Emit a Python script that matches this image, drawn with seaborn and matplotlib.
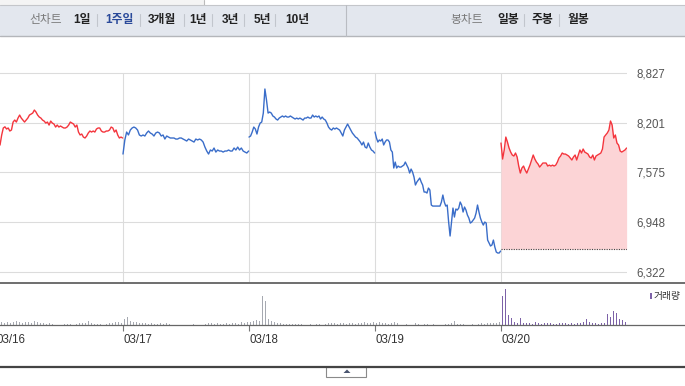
import numpy as np
import pandas as pd
import matplotlib
matplotlib.use("Agg")
import matplotlib.pyplot as plt
import seaborn as sns
from matplotlib.patches import Rectangle, Polygon
from matplotlib.lines import Line2D

# ---- data ----
dates = ["03/16", "03/17", "03/18", "03/19", "03/20"]
price_ticks = [6322, 6948, 7575, 8201, 8827]
prev_close = 6610
day_dir = ["up", "down", "down", "down", "up"]

day1 = [7920, 8045, 8135, 8150, 8122, 8135, 8097, 8110, 8210, 8235, 8210, 8260, 8298, 8260, 8235,
        8210, 8235, 8260, 8298, 8310, 8323, 8361, 8336, 8298, 8273, 8260, 8235, 8222, 8197, 8210,
        8172, 8222, 8197, 8185, 8147, 8172, 8147, 8160, 8147, 8135, 8135, 8147, 8172, 8210, 8197,
        8185, 8147, 8172, 8084, 8047, 8059, 8021, 8009, 8034, 8072, 8097, 8084, 8097, 8084, 8122,
        8135, 8135, 8097, 8084, 8084, 8097, 8097, 8110, 8147, 8135, 8084, 8110, 8047, 8009, 8021, 8009]
day2 = [7807, 7984, 8084, 8047, 8109, 8135, 8147, 8135, 8109, 8047, 8034, 8047, 8034, 8072, 8097,
        8072, 8059, 8034, 8072, 8084, 8072, 8034, 8047, 7996, 8034, 8021, 8009, 8009, 8009, 7996,
        7996, 8009, 8009, 7996, 7984, 7971, 7996, 7984, 7971, 7958, 7996, 7984, 7996, 7984, 7958,
        7895, 7845, 7807, 7858, 7845, 7883, 7832, 7858, 7845, 7845, 7832, 7845, 7845, 7858, 7845,
        7845, 7883, 7858, 7895, 7858, 7883, 7845, 7832, 7820, 7845]
day3 = [8021, 8034, 8084, 8147, 8122, 8059, 8147, 8197, 8210, 8323, 8626, 8487, 8323, 8336, 8323,
        8286, 8273, 8248, 8235, 8260, 8273, 8286, 8273, 8286, 8273, 8273, 8286, 8273, 8260, 8248,
        8260, 8248, 8260, 8248, 8235, 8260, 8260, 8273, 8260, 8260, 8298, 8273, 8286, 8273, 8286,
        8248, 8273, 8248, 8235, 8197, 8147, 8122, 8109, 8135, 8122, 8135, 8122, 8109, 8072, 8034,
        8109, 8147, 8185, 8147, 8109, 8072, 8047, 8021, 8009, 7984, 7958, 7921, 7958, 7895, 7883,
        7946, 7895, 7858, 7845, 7820]
day4 = [8084, 8009, 7958, 7984, 7971, 7996, 7921, 7958, 7984, 7984, 7958, 7858, 7832, 7631, 7706,
        7631, 7656, 7643, 7643, 7656, 7668, 7706, 7668, 7631, 7568, 7618, 7581, 7518, 7417, 7455,
        7480, 7505, 7455, 7417, 7329, 7329, 7316, 7379, 7354, 7165, 7152, 7152, 7152, 7152, 7152,
        7152, 7203, 7291, 7203, 7152, 7165, 6951, 6775, 6951, 7127, 7014, 7115, 7102, 7127, 7203,
        7165, 7077, 7140, 7102, 7039, 7001, 6938, 6951, 6976, 7001, 7064, 7165, 7077, 7001, 6951,
        6913, 6951, 6938, 6724, 6687, 6649, 6662, 6724, 6636, 6573, 6561, 6561, 6586]
day5 = [7946, 7744, 7858, 8021, 7958, 7883, 7832, 7795, 7782, 7820, 7770, 7656, 7568, 7631, 7656,
        7606, 7568, 7618, 7668, 7732, 7795, 7744, 7706, 7681, 7643, 7668, 7694, 7694, 7694, 7656,
        7668, 7656, 7668, 7656, 7668, 7706, 7757, 7782, 7820, 7807, 7807, 7795, 7782, 7757, 7732,
        7770, 7795, 7732, 7795, 7858, 7820, 7870, 7832, 7820, 7807, 7770, 7757, 7795, 7732, 7782,
        7795, 7807, 7820, 7870, 8021, 8047, 8072, 8109, 8223, 8172, 8009, 8047, 7946, 7921, 7845,
        7832, 7845, 7858, 7883]

vol1 = [2, 3, 2, 3, 2, 3, 4, 3, 2, 3, 3, 2, 4, 3, 2, 2, 1, 2, 1, 0, 0, 0, 1, 1, 1, 0, 1, 2, 2, 2, 4,
        2, 1, 1, 1, 0, 1, 2, 2, 3, 3, 2]
vol2 = [6, 8, 4, 3, 3, 2, 2, 2, 1, 2, 1, 1, 2, 1, 2, 1, 0, 0, 0, 0, 0, 0, 0, 1, 0, 0, 0, 1, 2, 2, 1,
        2, 1, 1, 2, 1, 2, 2, 1, 3, 2, 3]
vol3 = [3, 4, 5, 4, 29, 24, 6, 4, 3, 2, 2, 1, 1, 1, 1, 1, 1, 1, 0, 0, 1, 0, 1, 1, 0, 1, 2, 2, 2, 1,
        2, 2, 1, 2, 2, 1, 2, 2, 3, 2, 2, 3]
vol4 = [2, 3, 2, 2, 1, 2, 3, 2, 0, 0, 1, 0, 0, 2, 1, 0, 1, 1, 0, 1, 0, 0, 0, 1, 1, 2, 4, 1, 1, 1, 0,
        0, 1, 0, 1, 2, 1, 2, 2, 2, 2, 3]
vol5 = [29, 36, 10, 7, 3, 2, 7, 2, 2, 2, 1, 3, 2, 1, 2, 2, 2, 1, 1, 2, 2, 2, 1, 2, 1, 2, 2, 3, 6, 3,
        2, 2, 1, 2, 2, 11, 8, 14, 12, 6, 5, 3]

tool_left = ["1일", "1주일", "3개월", "1년", "3년", "5년", "10년"]
tool_right = ["일봉", "주봉", "월봉"]

RED = "#f4353d"
BLUE = "#3a6dc9"
FILL = "#fcd4d6"
GRID = "#dcdcdc"

W, H = 685, 386


def fx(px):
    return px / W


def fy(py):
    return 1 - py / H


sns.set_style("white")
plt.rcParams["font.family"] = ["Liberation Sans", "Noto Sans CJK KR", "DejaVu Sans"]

fig = plt.figure(figsize=(W / 100, H / 100), dpi=100)
fig.patch.set_facecolor("white")

# ---- price panel ----
frames = []
for d, (vals, direction) in enumerate(zip([day1, day2, day3, day4, day5], day_dir)):
    start = 0.024 if d == 0 else 0.0
    t = d + np.linspace(start, 0.997, len(vals))
    frames.append(pd.DataFrame({"t": t, "price": vals, "day": d, "dir": direction}))
df = pd.concat(frames, ignore_index=True)

ax = fig.add_axes([fx(-3), fy(282), 630 / W, (282 - 45) / H])
ax.set_xlim(0, 5)
ax.set_ylim(6196, 9180)

today = df[df.day == 4]
ax.fill_between(today.t, today.price, prev_close, color=FILL, lw=0, zorder=1)
sns.lineplot(data=df, x="t", y="price", hue="dir", units="day", estimator=None, sort=False,
             palette={"up": RED, "down": BLUE}, lw=1.0, legend=False, ax=ax, zorder=3)
ax.hlines(prev_close, today.t.min(), today.t.max(), colors="#444444",
          linestyles=(0, (1, 1.2)), lw=0.8, zorder=4)

ax.yaxis.tick_right()
ax.set_yticks(price_ticks)
ax.set_yticklabels([f"{v:,}" for v in price_ticks])
ax.tick_params(axis="y", length=0, pad=6.5, labelsize=8.3, labelcolor="#555555")
ax.set_xticks([])
ax.set_xlabel("")
ax.set_ylabel("")
ax.grid(True, axis="y", color=GRID, lw=0.8)
ax.set_axisbelow(True)
ax.vlines([1, 2, 3, 4], 6196, price_ticks[-1], colors=GRID, lw=0.8, zorder=0)
for s in ax.spines.values():
    s.set_visible(False)

# ---- volume panel ----
axv = fig.add_axes([fx(-3), fy(325), 691 / W, 43 / H])
axv.set_xlim(0, 691 / 126)
axv.set_ylim(0, 43)
for d, vols in enumerate([vol1, vol2, vol3, vol4, vol5]):
    t = d + (np.arange(len(vols)) + 0.5) / len(vols)
    axv.bar(t, vols, width=1.4 / 126, lw=0, color="#7d62a8" if d == 4 else "#a6a9b1")
axv.set_xticks(range(len(dates)))
axv.set_xticklabels(dates, ha="left")
axv.set_yticks([])
axv.tick_params(axis="x", length=4, width=0.8, color="#777777", pad=2.5, labelsize=8.3,
                labelcolor="#333333", direction="out", bottom=True)
for name, s in axv.spines.items():
    s.set_visible(name == "bottom")
axv.spines["bottom"].set_color("#666666")
axv.spines["bottom"].set_linewidth(0.9)
axv.text(fx(654), fy(295.5), "거래량", transform=fig.transFigure, ha="left", va="center",
         fontsize=7, color="#333333")
fig.patches.append(Rectangle((fx(649.5), fy(298.5)), 2.5 / W, 6 / H, transform=fig.transFigure,
                             facecolor="#7d62a8", lw=0))

# separators between panels
fig.add_artist(Line2D([0, 1], [fy(282.5)] * 2, color="#555555", lw=1.2))
fig.add_artist(Line2D([0, 1], [fy(366.5)] * 2, color="#444444", lw=1.6))
fig.patches.append(Rectangle((fx(326), fy(376.5)), 40 / W, 9.5 / H, transform=fig.transFigure,
                             facecolor="white", edgecolor="#8a8a8a", lw=0.8))
fig.patches.append(Polygon([(fx(343.5), fy(373)), (fx(347), fy(369.5)), (fx(350.5), fy(373))],
                           closed=True, transform=fig.transFigure, facecolor="#4a5570", lw=0))

# ---- toolbar ----
fig.patches.append(Rectangle((0, fy(5)), fx(204), 5 / H, transform=fig.transFigure,
                             facecolor="#f4f4f4", lw=0))
fig.add_artist(Line2D([fx(204)] * 2, [fy(0), fy(5)], color="#bbbbbb", lw=0.8))
fig.patches.append(Rectangle((0, fy(36)), 1, 31 / H, transform=fig.transFigure,
                             facecolor="#e3e7ee", lw=0))
fig.add_artist(Line2D([0, 1], [fy(5)] * 2, color="#c4c6ca", lw=0.8))
fig.add_artist(Line2D([0, 1], [fy(36)] * 2, color="#b4b6ba", lw=1.0))
fig.add_artist(Line2D([fx(346.5)] * 2, [fy(5), fy(36)], color="#b9bcc2", lw=0.8))

fig.text(fx(45.4), fy(20), "선차트", ha="center", va="center", fontsize=8.5, color="#7a7a7a")
for label, cx in zip(tool_left, [82, 119, 161.6, 198, 230.4, 262.4, 297.7]):
    fig.text(fx(cx), fy(20), label, ha="center", va="center", fontsize=8.5, fontweight="bold",
             color="#2a4a9a" if label == "1주일" else "#222222")
fig.text(fx(467), fy(20), "봉차트", ha="center", va="center", fontsize=8.5, color="#7a7a7a")
for label, cx in zip(tool_right, [508, 542.4, 578.5]):
    fig.text(fx(cx), fy(20), label, ha="center", va="center", fontsize=8.5, fontweight="bold",
             color="#222222")
for sx in [97, 139.8, 183.5, 212, 243.8, 275.2, 524.2, 559.2]:
    fig.add_artist(Line2D([fx(sx)] * 2, [fy(14), fy(26)], color="#c2c6cd", lw=0.8))

fig.savefig("out.png", dpi=100)
